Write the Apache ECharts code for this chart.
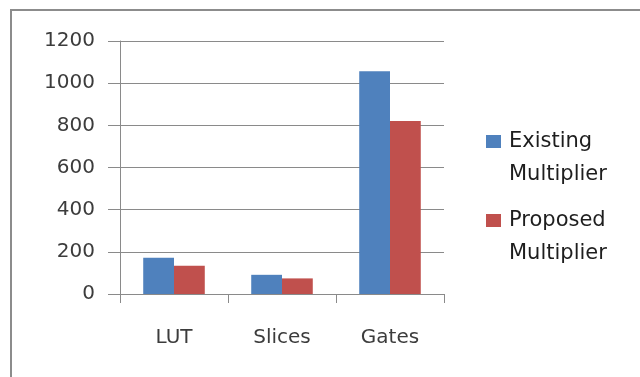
<!DOCTYPE html>
<html>
<head>
<meta charset="utf-8">
<script src="https://cdn.jsdelivr.net/npm/echarts@6/dist/echarts.min.js"></script>
<style>
  html, body { margin: 0; padding: 0; background: #fff; }
  #chart { width: 640px; height: 377px; }
</style>
</head>
<body>
<div id="chart"></div>
<script>
// Resource usage of the two multiplier designs
const categories = ['LUT', 'Slices', 'Gates'];
const existingMultiplier = [172, 91, 1057];
const proposedMultiplier = [134, 74, 821];
const seriesNames = ['Existing\nMultiplier', 'Proposed\nMultiplier'];

const FONT = 'DejaVu Sans';
const GRID_GRAY = '#8a8a8a';

const chart = echarts.init(document.getElementById('chart'), null, { renderer: 'canvas' });

chart.setOption({
  animation: false,
  backgroundColor: '#ffffff',
  graphic: [{
    type: 'rect',
    shape: { x: 11, y: 10, width: 700, height: 500 },
    style: { fill: 'none', stroke: '#8c8c8c', lineWidth: 2 },
    silent: true
  }],
  grid: { left: 120, right: 196, top: 41, bottom: 83 },
  legend: {
    orient: 'vertical',
    left: 486,
    top: 92,
    padding: 0,
    itemWidth: 15,
    itemHeight: 13,
    itemGap: -20,
    icon: 'rect',
    data: seriesNames,
    // an empty first line keeps the swatch level with the first text line
    formatter: name => '\n' + name,
    textStyle: {
      fontFamily: FONT,
      fontSize: 21,
      color: '#1e1e1e',
      lineHeight: 33,
      padding: [0, 0, 0, 3]
    }
  },
  xAxis: {
    type: 'category',
    data: categories,
    axisLine: { show: true, lineStyle: { color: GRID_GRAY, width: 1 } },
    axisTick: { show: true, length: 9, alignWithLabel: false, lineStyle: { color: GRID_GRAY } },
    axisLabel: { fontFamily: FONT, fontSize: 20, color: '#3c3c3c', margin: 34 }
  },
  yAxis: {
    type: 'value',
    min: 0,
    max: 1200,
    interval: 200,
    axisLine: { show: true, lineStyle: { color: GRID_GRAY, width: 1 } },
    axisTick: { show: true, length: 12, inside: false, lineStyle: { color: GRID_GRAY } },
    axisLabel: {
      fontFamily: FONT, fontSize: 20, color: '#3c3c3c', margin: 25,
      formatter: v => String(v)
    },
    splitLine: { show: true, lineStyle: { color: GRID_GRAY, width: 1 } }
  },
  series: [
    {
      name: seriesNames[0],
      type: 'bar',
      data: existingMultiplier,
      itemStyle: { color: '#4f81bd' },
      barGap: '0%',
      barCategoryGap: '43%'
    },
    {
      name: seriesNames[1],
      type: 'bar',
      data: proposedMultiplier,
      itemStyle: { color: '#c0504d' }
    }
  ]
});
</script>
</body>
</html>
